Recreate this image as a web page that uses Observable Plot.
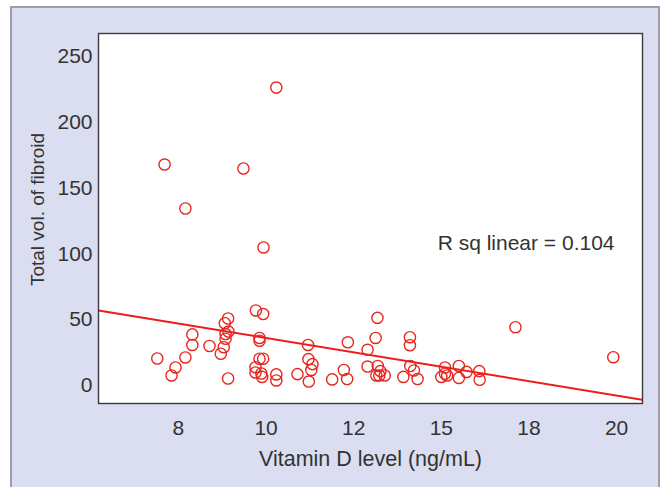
<!DOCTYPE html>
<html>
<head>
<meta charset="utf-8">
<script src="https://cdn.jsdelivr.net/npm/d3@7"></script>
<script src="https://cdn.jsdelivr.net/npm/@observablehq/plot@0.6"></script>
<style>
  html, body { margin: 0; padding: 0; background: #ffffff; }
  #wrap { position: relative; width: 667px; height: 487px; overflow: hidden; }
  #bg { position: absolute; left: 10px; top: 6px; width: 650px; height: 500px; box-sizing: border-box;
        background: #dadef0; border: 2px solid #9d9ea6; }
  #chart { position: absolute; left: 0; top: 0; }
</style>
</head>
<body>
<div id="wrap"><div id="bg"></div><div id="chart"></div></div>
<script>
// Vitamin D level (axis units) and total fibroid volume
const vitaminD = [10.68, 7.62, 9.78, 8.19, 10.33, 7.42, 7.92, 7.81, 8.19, 8.38,
  8.38, 8.85, 9.36, 9.27, 9.37, 9.29, 9.29, 9.24, 9.16, 9.36,
  10.12, 10.32, 10.22, 10.22, 10.22, 10.32, 10.11, 10.11, 10.27, 10.29,
  10.68, 10.68, 11.26, 11.55, 11.56, 11.67, 11.64, 11.57, 12.21, 12.53,
  12.62, 12.64, 13.18, 13.18, 13.40, 13.45, 13.46, 13.53, 13.42, 13.50,
  13.65, 14.16, 14.34, 14.34, 14.35, 14.45, 14.55, 15.20, 15.30, 15.30,
  15.36, 15.68, 15.68, 15.89, 16.24, 16.25, 17.23, 19.91];
const fibroidVol = [226.4, 167.9, 164.9, 134.5, 104.9, 20.5, 13.7, 7.6, 21.3, 38.8,
  30.8, 30.0, 50.9, 47.3, 41.0, 39.1, 35.5, 29.1, 24.1, 5.3,
  57.0, 54.3, 36.1, 34.0, 20.3, 20.3, 13.9, 9.9, 9.1, 6.5,
  8.4, 3.8, 8.6, 30.8, 20.0, 16.2, 11.8, 3.0, 4.6, 11.8,
  4.9, 32.8, 27.1, 14.4, 36.1, 51.4, 14.8, 10.9, 7.6, 7.6,
  7.6, 6.5, 36.7, 30.6, 14.8, 11.4, 4.9, 6.5, 13.7, 8.9,
  7.6, 14.8, 5.7, 10.3, 10.9, 4.3, 44.3, 21.5];

// axis ticks
const xTickValues = [8, 10.4, 12.8, 15.2, 17.6, 20];
const xTickLabels = ["8", "10", "12", "15", "18", "20"];
const yTickValues = [0, 50, 100, 150, 200, 250];

// fit line (linear)
const fitIntercept = 83.4;
const fitSlope = -4.55;
const rSqText = "R sq linear = 0.104";

const xDomain = [5.81, 20.71];
const yDomain = [-13.7, 267.5];

const points = vitaminD.map((x, i) => ({x, y: fibroidVol[i]}));
const fitLine = xDomain.map(x => ({x, y: fitIntercept + fitSlope * x}));

const red = "#e8261e";
const textColor = "#333333";
const font = "'Liberation Sans', Arial, sans-serif";

const chart = Plot.plot({
  width: 667,
  height: 487,
  marginLeft: 98,
  marginRight: 25,
  marginTop: 33,
  marginBottom: 84,
  style: { background: "transparent", fontFamily: font, color: textColor, overflow: "visible" },
  x: { domain: xDomain },
  y: { domain: yDomain },
  marks: [
    Plot.frame({ fill: "white", stroke: null }),
    Plot.line(fitLine, { x: "x", y: "y", stroke: "#ee1b1b", strokeWidth: 2, clip: true }),
    Plot.dot(points, { x: "x", y: "y", r: 5.6, stroke: red, strokeWidth: 1.4, fill: "none" }),
    Plot.frame({ stroke: "#3a3a3a", strokeWidth: 1.4 }),
    Plot.axisX({ ticks: xTickValues, tickFormat: (d, i) => xTickLabels[i], tickSize: 0, tickPadding: 17,
                 fontSize: 21, fill: textColor, label: null }),
    Plot.axisY({ ticks: yTickValues, tickSize: 0, tickPadding: 6, fontSize: 21, fill: textColor, label: null }),
    Plot.text(["Vitamin D level (ng/mL)"], { frameAnchor: "bottom", dy: 56, fontSize: 21.5, fill: textColor, lineAnchor: "middle" }),
    Plot.text(["Total vol. of fibroid"], { frameAnchor: "left", dx: -61, dy: -9, rotate: -90, textAnchor: "middle", fontSize: 19, fill: textColor, lineAnchor: "middle" }),
    Plot.text([rSqText], { frameAnchor: "top-right", dx: -28, dy: 210, textAnchor: "end", lineAnchor: "middle", fontSize: 21, fill: textColor })
  ]
});
document.getElementById("chart").appendChild(chart);
</script>
</body>
</html>
